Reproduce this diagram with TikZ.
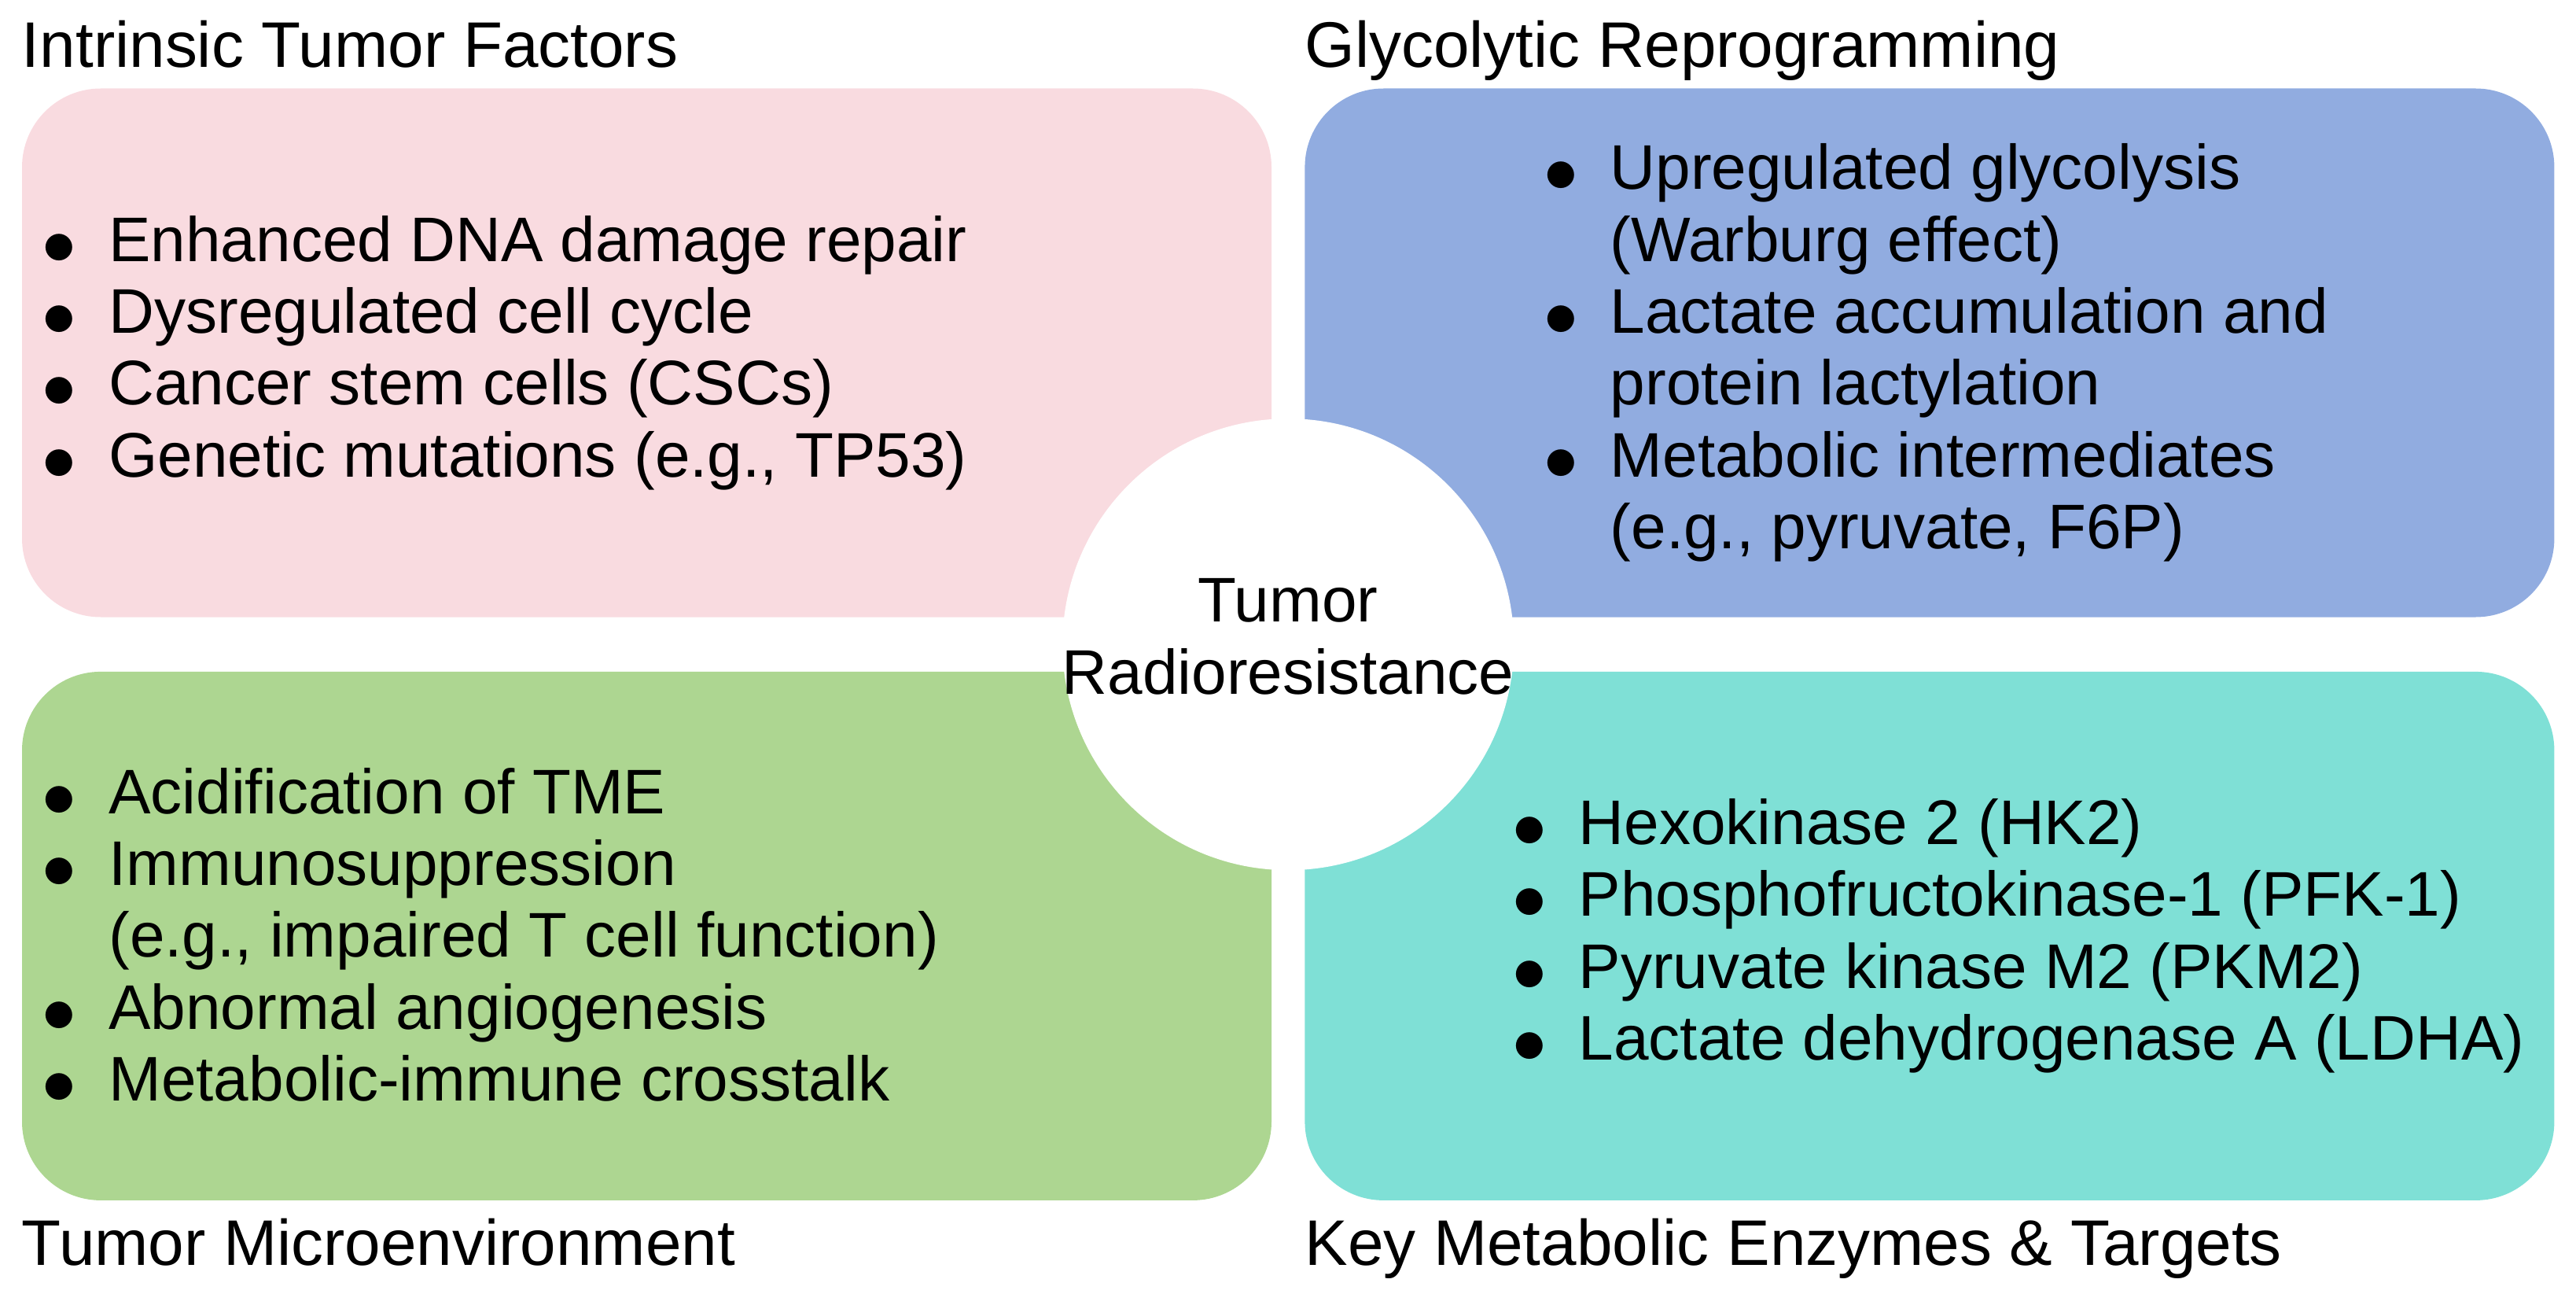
\documentclass[tikz,border=0pt]{standalone}
\usepackage{fontspec}
\setmainfont{Liberation Sans}
\usetikzlibrary{positioning, calc}
\definecolor{pinkbox}{HTML}{F9DBE0}
\definecolor{bluebox}{HTML}{91ACE0}
\definecolor{greenbox}{HTML}{ADD691}
\definecolor{tealbox}{HTML}{7FE0D6}
\tikzset{
panel/.style={rounded corners=1cm, minimum width=15.89cm, minimum height=6.72cm, inner sep=0},
heading/.style={inner sep=0, font=\fontsize{23.3}{28}\selectfont},
items/.style={inner sep=0, align=left, font=\fontsize{22.8}{26}\selectfont},
hub/.style={circle, fill=white, minimum size=5.74cm, inner sep=0},
hubtext/.style={inner sep=0, align=center, font=\fontsize{22.8}{26}\selectfont}
}
\newcommand{\itm}{\makebox[24pt][l]{\raisebox{-0.05em}{\scalebox{1.2}{$\bullet$}}}}
\newcommand{\cont}{\hspace*{24pt}}

\begin{document}
\begin{tikzpicture}
\useasboundingbox (0,0) rectangle (32.76,16.44);
% four panels
\node[panel, fill=pinkbox] (intr) at (8.225,11.955) {};
\node[panel, fill=bluebox, right=0.41 of intr] (glyc) {};
\node[panel, fill=greenbox, below=0.68 of intr] (env) {};
\node[panel, fill=tealbox, right=0.41 of env] (keys) {};
% headings
\node[heading, above right=0.26 and 0 of intr.north west, anchor=base west] (intrhead) {Intrinsic Tumor Factors};
\node[heading, above right=0.26 and 0 of glyc.north west, anchor=base west] (glychead) {Glycolytic Reprogramming};
\node[heading, below right=0.82 and 0 of env.south west, anchor=base west] (envhead) {Tumor Microenvironment};
\node[heading, below right=0.82 and 0 of keys.south west, anchor=base west] (keyshead) {Key Metabolic Enzymes \& Targets};
% lists
\node[items, right=0.26 of intr.west] (intrlist) {\itm Enhanced DNA damage repair\\
\itm Dysregulated cell cycle\\
\itm Cancer stem cells (CSCs)\\
\itm Genetic mutations (e.g., TP53)};
\node[items, right=3.04 of glyc.west] (glyclist) {\itm Upregulated glycolysis\\
\cont (Warburg effect)\\
\itm Lactate accumulation and\\
\cont protein lactylation\\
\itm Metabolic intermediates\\
\cont (e.g., pyruvate, F6P)};
\node[items, right=0.26 of env.west] (envlist) {\itm Acidification of TME\\
\itm Immunosuppression\\
\cont (e.g., impaired T cell function)\\
\itm Abnormal angiogenesis\\
\itm Metabolic-immune crosstalk};
\node[items, right=2.64 of keys.west] (keyslist) {\itm Hexokinase 2 (HK2)\\
\itm Phosphofructokinase-1 (PFK-1)\\
\itm Pyruvate kinase M2 (PKM2)\\
\itm Lactate dehydrogenase A (LDHA)};
% centre
\node[hub] (core) at ($(intr.south east)!.5!(keys.north west)$) {};
\node[hubtext] (corename) at ($(core)+(0,0.1)$) {Tumor\\Radioresistance};
\end{tikzpicture}
\end{document}
